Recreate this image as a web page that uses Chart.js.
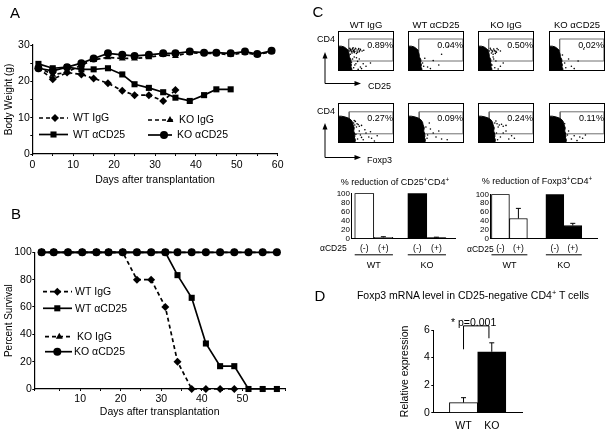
<!DOCTYPE html>
<html>
<head>
<meta charset="utf-8">
<script src="https://cdn.jsdelivr.net/npm/chart.js@4.4.0/dist/chart.umd.min.js"></script>
<style>
  body { margin: 0; background: #fff; }
  #fig { position: relative; width: 615px; height: 432px; overflow: hidden;
         font-family: "Liberation Sans", Arial, sans-serif; color: #000; }
  #fig canvas { position: absolute; }
  .t { position: absolute; transform: translate(-50%, -50%); line-height: 1; white-space: nowrap; }
  .l { position: absolute; transform: translate(0, -50%); line-height: 1; white-space: nowrap; }
  sup { font-size: 0.7em; vertical-align: 0.45em; line-height: 0; }
  svg { position: absolute; left: 0; top: 0; }
</style>
</head>
<body>
<div id="fig">
  <canvas id="bodyWeight" width="300" height="160" style="left:0;top:30px"></canvas>
  <canvas id="survival" width="300" height="180" style="left:0;top:240px"></canvas>

  <canvas id="fc0" width="64" height="48" style="left:334px;top:27px"></canvas>
  <canvas id="fc1" width="64" height="48" style="left:404px;top:27px"></canvas>
  <canvas id="fc2" width="64" height="48" style="left:474px;top:27px"></canvas>
  <canvas id="fc3" width="64" height="48" style="left:545px;top:27px"></canvas>
  <canvas id="fc4" width="64" height="48" style="left:334px;top:99px"></canvas>
  <canvas id="fc5" width="64" height="48" style="left:404px;top:99px"></canvas>
  <canvas id="fc6" width="64" height="48" style="left:474px;top:99px"></canvas>
  <canvas id="fc7" width="64" height="48" style="left:545px;top:99px"></canvas>

  <canvas id="cd25Reduction" width="155" height="90" style="left:315px;top:185px"></canvas>
  <canvas id="foxp3Reduction" width="141" height="90" style="left:462px;top:185px"></canvas>
  <canvas id="expression" width="150" height="114" style="left:380px;top:318px"></canvas>

  <svg width="615" height="432">
    <g stroke="#000" stroke-width="1" fill="#000">
      <line x1="325" y1="83.5" x2="325" y2="57" />
      <polygon points="325,52 322.5,58.5 327.5,58.5" stroke="none" />
      <line x1="325" y1="83.5" x2="356" y2="83.5" />
      <polygon points="361,83.5 354.5,81 354.5,86" stroke="none" />
      <line x1="325" y1="157.5" x2="325" y2="128" />
      <polygon points="325,123 322.5,129.5 327.5,129.5" stroke="none" />
      <line x1="325" y1="157.5" x2="356" y2="157.5" />
      <polygon points="361,157.5 354.5,155 354.5,160" stroke="none" />
    </g>
  </svg>

  <div class="t" style="left:15px;top:12px;font-size:15px">A</div>
  <div class="t" style="left:16px;top:213px;font-size:15px">B</div>
  <div class="t" style="left:318px;top:11px;font-size:15px">C</div>
  <div class="t" style="left:320px;top:295px;font-size:15px">D</div>

  <div class="t" style="left:366px;top:25px;font-size:9.5px">WT IgG</div>
  <div class="t" style="left:436px;top:25px;font-size:9.5px">WT αCD25</div>
  <div class="t" style="left:506px;top:25px;font-size:9.5px">KO IgG</div>
  <div class="t" style="left:577px;top:25px;font-size:9.5px">KO αCD25</div>
  <div class="l" style="left:317px;top:39px;font-size:9px">CD4</div>
  <div class="l" style="left:317px;top:111px;font-size:9px">CD4</div>
  <div class="l" style="left:368px;top:86px;font-size:9px">CD25</div>
  <div class="l" style="left:367px;top:160px;font-size:9px">Foxp3</div>

  <div class="t" style="left:395px;top:182px;font-size:9px">% reduction of CD25<sup>+</sup>CD4<sup>+</sup></div>
  <div class="t" style="left:537px;top:181px;font-size:9px">% reduction of Foxp3<sup>+</sup>CD4<sup>+</sup></div>
  <div class="l" style="left:320px;top:248px;font-size:8.5px">αCD25</div>
  <div class="l" style="left:467px;top:249px;font-size:8.5px">αCD25</div>

  <div class="t" style="left:473px;top:295px;font-size:10.5px">Foxp3 mRNA level in CD25-negative CD4<sup>+</sup> T cells</div>
  <div class="l" style="left:451px;top:322px;font-size:10.5px">* p=0.001</div>
</div>

<script>
const fontFamily = "'Liberation Sans', Arial, sans-serif";
Chart.defaults.font.family = fontFamily;
Chart.defaults.color = "#000";
Chart.defaults.animation = false;
Chart.defaults.events = [];
Chart.defaults.plugins.legend.display = false;
Chart.defaults.plugins.tooltip.enabled = false;

// A: body weight (g) by day
const daysA = [1.5, 5, 8.5, 12, 15, 18.5, 22, 25, 28.5, 32, 35, 38.5, 42, 45, 48.5, 52, 55, 58.5];
const weightWtIgG = [23.6, 20.6, 22.4, 21.9, 20.8, 19.5, 17.4, 16.2, 16.2, 14.6, 17.6];
const weightWtAnti = [24.8, 23.6, 23.9, 23.3, 23.3, 23.6, 21.9, 19.2, 18.2, 17.0, 15.5, 14.6, 16.2, 17.8, 17.8];
const weightKoIgG = [23.9, 21.8, 22.5, 24.5, 25.9, 26.6, 26.3, 26.3, 26.6, 27.3, 27.0, 27.9, 27.7, 27.7, 27.3, 27.9, 27.3, 28.2];
const weightKoAnti = [23.6, 22.9, 23.9, 25.0, 26.3, 27.7, 27.3, 27.0, 27.3, 27.7, 27.7, 28.2, 27.9, 27.9, 27.7, 28.2, 27.5, 28.4];

// B: percent survival by day
const daysB = [0.5, 3.5, 7, 10.5, 14, 17, 20.5, 24, 27.5, 31, 34, 37.5, 41, 44.5, 48, 51.5, 55, 58.5];
const survWtIgG = [100, 100, 100, 100, 100, 100, 100, 80, 80, 60, 20, 0, 0, 0, 0];
const survWtAnti = [100, 100, 100, 100, 100, 100, 100, 100, 100, 100, 83.3, 66.7, 33.3, 16.7, 16.7, 0, 0, 0];
const survKoIgG = [100, 100, 100, 100, 100, 100, 100, 100, 100, 100, 100, 100, 100, 100, 100, 100, 100, 100];
const survKoAnti = [100, 100, 100, 100, 100, 100, 100, 100, 100, 100, 100, 100, 100, 100, 100, 100, 100, 100];

const groupNames = ["WT IgG", "WT αCD25", "KO IgG", "KO αCD25"];

// C: flow plots (CD25 or Foxp3 on x, CD4 on y, both 0-100)
const cd25Blob = [[24, 0], [25, 5], [23, 10], [24, 16], [22, 22], [23, 28], [21, 34], [20, 40], [19, 46], [18, 52], [15, 56], [11, 60], [6, 62], [0, 62]];
const foxp3Blob = [[30, 0], [31, 8], [29, 15], [30, 22], [28, 30], [29, 38], [27, 45], [26, 52], [23, 58], [19, 62], [13, 65], [6, 67], [0, 67]];
const cd25Gate = [[19, 25], [98, 25], [98, 80], [19, 80], [19, 25]];
const foxp3Gate = [[20, 23], [98, 23], [98, 78], [20, 78], [20, 23]];
const cd25Percent = ["0.89%", "0.04%", "0.50%", "0.02%"];
const foxp3Percent = ["0.27%", "0.09%", "0.24%", "0.11%"];
const cd25Dots = [
  [[20, 50], [22, 54], [24, 48], [26, 56], [28, 51], [30, 49], [32, 55], [34, 50], [36, 53], [38, 48], [40, 54], [43, 50], [46, 52], [25, 45], [29, 46], [33, 44], [22, 42], [27, 58], [31, 57], [21, 57], [23, 51], [25, 53], [27, 49], [29, 53], [35, 47], [37, 56], [39, 51], [24, 22], [30, 15], [35, 24], [40, 10], [45, 18], [28, 8], [50, 12], [38, 30], [58, 20], [33, 33], [26, 30], [29, 35], [42, 6], [32, 18], [36, 4]],
  [[26, 20], [35, 10], [45, 26], [60, 42], [30, 32], [55, 15], [72, 62], [40, 6], [28, 12]],
  [[20, 50], [23, 53], [26, 48], [28, 55], [30, 50], [33, 47], [36, 53], [24, 45], [27, 42], [31, 44], [40, 50], [22, 57], [34, 56], [25, 51], [29, 52], [32, 49], [25, 15], [32, 25], [40, 12], [30, 8], [45, 20], [28, 30], [27, 35], [36, 5]],
  [[24, 40], [28, 20], [40, 12], [52, 25], [35, 30], [62, 55], [30, 8], [45, 6]],
];
const foxp3Dots = [
  [[28, 50], [31, 54], [34, 48], [30, 45], [36, 46], [38, 42], [42, 44], [33, 40], [29, 56], [35, 10], [40, 20], [45, 8], [55, 15], [60, 12], [50, 25], [65, 5], [70, 18], [38, 30], [48, 33], [32, 22], [42, 14], [58, 28]],
  [[32, 40], [40, 35], [35, 20], [50, 15], [45, 25], [60, 10], [70, 8], [34, 12], [55, 30], [38, 50]],
  [[30, 50], [34, 48], [38, 45], [42, 47], [45, 42], [50, 44], [36, 40], [32, 55], [40, 15], [55, 10], [60, 18], [65, 12], [45, 25], [35, 8], [50, 30], [33, 25]],
  [[25, 40], [33, 20], [45, 18], [55, 15], [40, 10], [60, 12], [35, 30], [28, 48], [50, 6], [65, 20]],
];

// C: % reduction bars
const reductionGroups = ["WT", "KO"];
const cd25Minus = [100, 100];
const cd25Plus = [2, 1.5];
const cd25PlusErr = [1.5, 1];
const foxp3Minus = [100, 100];
const foxp3Plus = [45, 29];
const foxp3PlusErr = [23, 5];

// D: relative Foxp3 expression
const expressionGroups = ["WT", "KO"];
const expression = [0.73, 4.42];
const expressionErr = [0.36, 0.65];
const significance = { from: 1, to: 1.9, top: 6.3, leftEnd: 4.6, rightEnd: 5.4 };

const groupFill = ["#fff", "#000"];

function toXY(pairs) {
  return pairs.map((p) => ({ x: p[0], y: p[1] }));
}

function font(size) {
  return { family: fontFamily, size: size };
}

function lineSeries(label, days, values, style, dashed, order) {
  return {
    label: label,
    data: values.map((v, i) => ({ x: days[i], y: v })),
    borderColor: "#000",
    borderWidth: 1.7,
    borderDash: dashed ? [4, 3] : [],
    pointStyle: style,
    pointRadius: style === "rect" ? 4.3 : 4,
    pointBackgroundColor: "#000",
    pointBorderWidth: 0,
    tension: 0,
    clip: false,
    order: order,
  };
}

function legendPlugin(items) {
  return {
    id: "markerLegend",
    afterDatasetsDraw(chart) {
      const ctx = chart.ctx;
      ctx.save();
      items.forEach((it) => {
        const ds = chart.data.datasets[it.index];
        ctx.strokeStyle = "#000";
        ctx.lineWidth = ds.borderWidth;
        ctx.setLineDash(ds.borderDash);
        ctx.beginPath();
        ctx.moveTo(it.x0, it.y);
        ctx.lineTo(it.x1, it.y);
        ctx.stroke();
        ctx.setLineDash([]);
        ctx.fillStyle = "#000";
        Chart.helpers.drawPoint(ctx, { pointStyle: ds.pointStyle, radius: ds.pointRadius, rotation: 0, borderWidth: 0 }, it.mx, it.y);
        ctx.font = "10.5px " + fontFamily;
        ctx.textBaseline = "middle";
        ctx.fillText(ds.label, it.tx, it.y + 0.5);
      });
      ctx.restore();
    },
  };
}

function axisScale(extra) {
  return Object.assign({
    type: "linear",
    grid: { drawOnChartArea: false, tickLength: 2, color: "#000" },
    border: { color: "#000", width: 1.2 },
  }, extra);
}

// Chart A: Body weight
new Chart(document.getElementById("bodyWeight"), {
  type: "line",
  data: {
    datasets: [
      lineSeries(groupNames[0], daysA, weightWtIgG, "rectRot", true, 0),
      lineSeries(groupNames[1], daysA, weightWtAnti, "rect", false, 1),
      lineSeries(groupNames[2], daysA, weightKoIgG, "triangle", true, 2),
      lineSeries(groupNames[3], daysA, weightKoAnti, "circle", false, 3),
    ],
  },
  options: {
    responsive: false,
    layout: { padding: { left: 3, top: 15, right: 22.3, bottom: 3.5 } },
    scales: {
      x: axisScale({
        min: 0, max: 60,
        ticks: { stepSize: 5, font: font(10.5), padding: 3, maxRotation: 0, autoSkip: false,
                 callback: (v) => (v % 10 === 0 ? v : "") },
        title: { display: true, text: "Days after transplantation", font: font(10.5), padding: 0 },
        afterFit: (s) => { s.height = 32.5; },
      }),
      y: axisScale({
        min: 0, max: 30,
        ticks: { stepSize: 5, font: font(10.5), padding: 0.5, autoSkip: false,
                 callback: (v) => (v % 10 === 0 ? v : "") },
        title: { display: true, text: "Body Weight (g)", font: font(10), padding: 0 },
        afterFit: (s) => { s.width = 29.3; },
      }),
    },
  },
  plugins: [legendPlugin([
    { index: 0, x0: 39, x1: 68, mx: 55, tx: 73, y: 88 },
    { index: 1, x0: 39, x1: 68, mx: 53.5, tx: 73, y: 104.5 },
    { index: 2, x0: 148, x1: 175, mx: 170, tx: 179, y: 90 },
    { index: 3, x0: 148, x1: 172, mx: 164, tx: 177, y: 105 },
  ])],
});

// Chart B: Survival
new Chart(document.getElementById("survival"), {
  type: "line",
  data: {
    datasets: [
      lineSeries(groupNames[0], daysB, survWtIgG, "rectRot", true, 3),
      lineSeries(groupNames[1], daysB, survWtAnti, "rect", false, 2),
      lineSeries(groupNames[2], daysB, survKoIgG, "triangle", true, 1),
      lineSeries(groupNames[3], daysB, survKoAnti, "circle", false, 0),
    ],
  },
  options: {
    responsive: false,
    layout: { padding: { left: 3.4, top: 12.3, right: 15, bottom: 1.7 } },
    scales: {
      x: axisScale({
        min: -1.3, max: 60.5,
        ticks: { stepSize: 5, font: font(10.5), padding: 1.5, maxRotation: 0, autoSkip: false,
                 callback: (v) => (v > 0 && v % 10 === 0 ? v : "") },
        title: { display: true, text: "Days after transplantation", font: font(10.5), padding: 0 },
        afterFit: (s) => { s.height = 29.3; },
      }),
      y: axisScale({
        min: 0, max: 100,
        ticks: { stepSize: 20, font: font(10.5), padding: 0.5, autoSkip: false },
        title: { display: true, text: "Percent Survival", font: font(10), padding: 0 },
        afterFit: (s) => { s.width = 30.9; },
      }),
    },
  },
  plugins: [legendPlugin([
    { index: 0, x0: 43, x1: 72, mx: 57.3, tx: 75, y: 51.7 },
    { index: 1, x0: 43, x1: 72, mx: 57.3, tx: 75, y: 68.3 },
    { index: 2, x0: 45, x1: 72, mx: 59.3, tx: 77, y: 96.7 },
    { index: 3, x0: 45, x1: 72, mx: 57.3, tx: 74, y: 111.7 },
  ])],
});

// C: flow cytometry dot plots
function flowFrame(percent) {
  return {
    id: "flowFrame",
    afterDatasetsDraw(chart) {
      const ctx = chart.ctx;
      const a = chart.chartArea;
      const gate = chart.data.datasets[2].data;
      const gx = chart.scales.x.getPixelForValue(Math.max(...gate.map((p) => p.x)));
      const gy = chart.scales.y.getPixelForValue(Math.max(...gate.map((p) => p.y)));
      ctx.save();
      ctx.strokeStyle = "#000";
      ctx.lineWidth = 1;
      ctx.strokeRect(a.left + 0.5, a.top + 0.5, a.width - 1, a.height - 1);
      ctx.fillStyle = "#000";
      ctx.font = "9px " + fontFamily;
      ctx.textAlign = "right";
      ctx.textBaseline = "middle";
      ctx.fillText(percent, gx, gy + 6.5);
      ctx.restore();
    },
  };
}

function flowPlot(id, blob, gate, dots, percent) {
  new Chart(document.getElementById(id), {
    type: "scatter",
    data: {
      datasets: [
        { type: "line", indexAxis: "y", data: toXY(blob), fill: "origin", backgroundColor: "#000",
          borderColor: "#000", borderWidth: 1, pointRadius: 0, tension: 0 },
        { data: toXY(dots), pointRadius: 0.8, pointBackgroundColor: "#000", pointBorderWidth: 0 },
        { type: "line", data: toXY(gate), borderColor: "#707070", borderWidth: 1, pointRadius: 0,
          fill: false, tension: 0 },
      ],
    },
    options: {
      responsive: false,
      layout: { padding: 1 },
      scales: {
        x: { type: "linear", min: 0, max: 100, display: false },
        y: { type: "linear", min: 0, max: 100, display: false },
      },
    },
    plugins: [flowFrame(percent)],
  });
}

cd25Percent.forEach((p, i) => flowPlot("fc" + i, cd25Blob, cd25Gate, cd25Dots[i], p));
foxp3Percent.forEach((p, i) => flowPlot("fc" + (i + 4), foxp3Blob, foxp3Gate, foxp3Dots[i], p));

// error whiskers (upper only)
const errorBars = {
  id: "errorBars",
  afterDatasetsDraw(chart) {
    const ctx = chart.ctx;
    const y = chart.scales.y;
    ctx.save();
    ctx.strokeStyle = "#000";
    ctx.lineWidth = 1;
    chart.data.datasets.forEach((ds, di) => {
      if (!ds.errors) return;
      chart.getDatasetMeta(di).data.forEach((bar, i) => {
        const e = ds.errors[i];
        if (!e) return;
        const top = y.getPixelForValue(ds.data[i].y + e);
        ctx.beginPath();
        ctx.moveTo(bar.x, bar.y);
        ctx.lineTo(bar.x, top);
        ctx.moveTo(bar.x - 2.5, top);
        ctx.lineTo(bar.x + 2.5, top);
        ctx.stroke();
      });
    });
    ctx.restore();
  },
};

// (-)/(+) under each bar, underline and WT/KO under each group
const groupLabels = {
  id: "groupLabels",
  afterDraw(chart) {
    const ctx = chart.ctx;
    const base = chart.chartArea.bottom;
    ctx.save();
    ctx.fillStyle = "#000";
    ctx.strokeStyle = "#000";
    ctx.lineWidth = 1;
    ctx.textAlign = "center";
    ctx.textBaseline = "middle";
    chart.data.labels.forEach((g, j) => {
      const bars = chart.data.datasets.map((ds, di) => chart.getDatasetMeta(di).data[j]);
      ctx.font = "8.5px " + fontFamily;
      chart.data.datasets.forEach((ds, di) => ctx.fillText(ds.label, bars[di].x, base + 10));
      const last = bars[bars.length - 1];
      const left = bars[0].x - bars[0].width / 2;
      const right = last.x + last.width / 2;
      ctx.beginPath();
      ctx.moveTo(left, base + 16.5);
      ctx.lineTo(right, base + 16.5);
      ctx.stroke();
      ctx.font = "9px " + fontFamily;
      ctx.fillText(g, (left + right) / 2, base + 27);
    });
    ctx.restore();
  },
};

function barSet(label, values, errors, catPct) {
  return {
    label: label,
    data: values.map((v, i) => ({ x: i + 1, y: v })),
    backgroundColor: groupFill,
    borderColor: "#000",
    borderWidth: 1,
    barThickness: "flex",
    barPercentage: 1,
    categoryPercentage: catPct,
    errors: errors,
  };
}

function reductionChart(id, minus, plus, plusErr, xMin, xMax, catPct, yWidth, pad) {
  new Chart(document.getElementById(id), {
    type: "bar",
    data: {
      labels: reductionGroups,
      datasets: [
        barSet("(-)", minus, null, catPct),
        barSet("(+)", plus, plusErr, catPct),
      ],
    },
    options: {
      responsive: false,
      layout: { padding: pad },
      scales: {
        x: {
          type: "linear", min: xMin, max: xMax, bounds: "data", offset: false,
          ticks: { display: false },
          grid: { display: false, drawTicks: false, offset: false },
          border: { color: "#000", width: 1 },
          afterFit: (s) => { s.height = 36.7; },
        },
        y: {
          min: 0, max: 100,
          ticks: { stepSize: 20, font: font(8), padding: 1, autoSkip: false },
          grid: { display: false, drawTicks: false },
          border: { color: "#000", width: 1 },
          afterFit: (s) => { s.width = yWidth; },
        },
      },
    },
    plugins: [errorBars, groupLabels],
  });
}

reductionChart("cd25Reduction", cd25Minus, cd25Plus, cd25PlusErr, 0.57, 2.53, 0.72, 36,
  { left: 0, top: 8.3, right: 15, bottom: 0 });
reductionChart("foxp3Reduction", foxp3Minus, foxp3Plus, foxp3PlusErr, 0.643, 2.61, 0.66, 28,
  { left: 0, top: 9.3, right: 6, bottom: 0 });

// D: relative expression
const bracket = {
  id: "sigBracket",
  afterDatasetsDraw(chart) {
    const x = chart.scales.x;
    const y = chart.scales.y;
    const ctx = chart.ctx;
    const x1 = x.getPixelForValue(significance.from);
    const x2 = x.getPixelForValue(significance.to);
    const yt = y.getPixelForValue(significance.top);
    ctx.save();
    ctx.strokeStyle = "#000";
    ctx.lineWidth = 1;
    ctx.beginPath();
    ctx.moveTo(x1, y.getPixelForValue(significance.leftEnd));
    ctx.lineTo(x1, yt);
    ctx.lineTo(x2, yt);
    ctx.lineTo(x2, y.getPixelForValue(significance.rightEnd));
    ctx.stroke();
    ctx.restore();
  },
};

new Chart(document.getElementById("expression"), {
  type: "bar",
  data: {
    labels: expressionGroups,
    datasets: [barSet("Relative expression", expression, expressionErr, 1)],
  },
  options: {
    responsive: false,
    layout: { padding: { left: 19, top: 12, right: 8, bottom: 0 } },
    scales: {
      x: {
        type: "linear", min: -0.07, max: 3.07, bounds: "data", offset: false,
        ticks: { font: font(10.5), padding: 7, callback: (v) => expressionGroups[v - 1] },
        grid: { display: false, drawTicks: false, offset: false },
        border: { color: "#000", width: 1 },
        afterBuildTicks: (s) => { s.ticks = expressionGroups.map((g, i) => ({ value: i + 1 })); },
        afterFit: (s) => { s.height = 19.3; },
      },
      y: {
        min: 0, max: 6,
        ticks: { stepSize: 2, font: font(10.5), padding: 1.5, autoSkip: false },
        grid: { drawOnChartArea: false, tickLength: 2, color: "#000" },
        border: { color: "#000", width: 1 },
        title: { display: true, text: "Relative expression", font: font(10.5), padding: 0 },
        afterFit: (s) => { s.width = 34.3; },
      },
    },
  },
  plugins: [errorBars, bracket],
});
</script>
</body>
</html>
